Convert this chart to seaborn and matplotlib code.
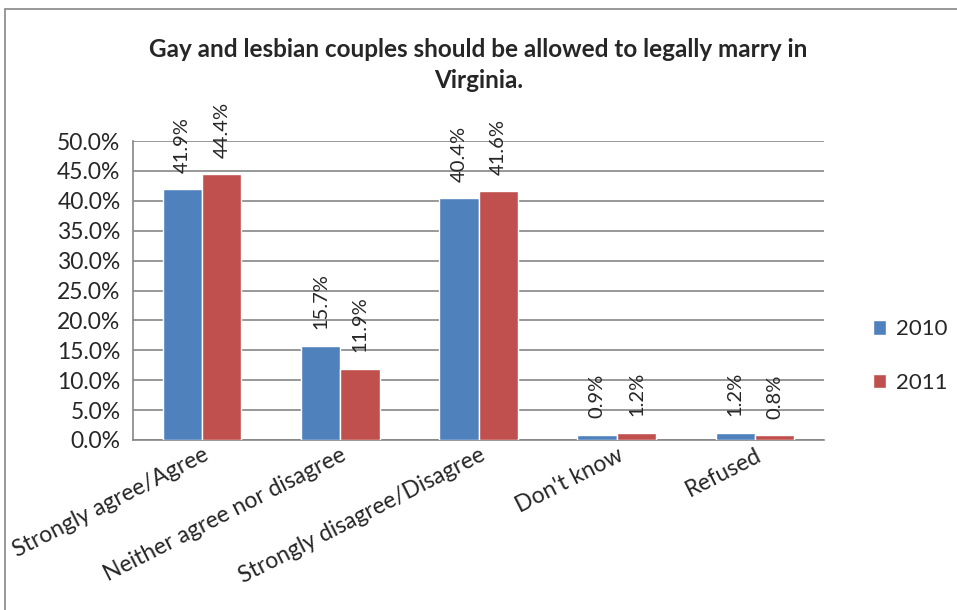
import numpy as np
import pandas as pd
import matplotlib.pyplot as plt
import matplotlib.patches as patches
from matplotlib.ticker import PercentFormatter, FixedLocator
import seaborn as sns

sns.set_style("white")
plt.rcParams['font.family'] = ['Lato', 'DejaVu Sans']

# DATA
categories = ["Strongly agree/Agree", "Neither agree nor disagree",
              "Strongly disagree/Disagree", "Don't know", "Refused"]
years = ["2010", "2011"]
values_2010 = [41.9, 15.7, 40.4, 0.9, 1.2]
values_2011 = [44.4, 11.9, 41.6, 1.2, 0.8]
colors = ["#4F81BD", "#C0504D"]

df = pd.DataFrame({
    "category": categories * 2,
    "year": [years[0]] * 5 + [years[1]] * 5,
    "value": values_2010 + values_2011,
})

fig = plt.figure(figsize=(9.57, 6.10), dpi=100)
ax = fig.add_axes([133 / 957, 1 - 440 / 610, 691 / 957, 299 / 610])

sns.barplot(data=df, x="category", y="value", hue="year", palette=colors,
            width=0.57, saturation=1, ax=ax, zorder=3)

for cont in ax.containers:
    ax.bar_label(cont, fmt="%.1f%%", rotation=90, padding=12, fontsize=14.5)

ax.set_ylim(0, 50)
ax.set_yticks(np.arange(0, 50.1, 5))
ax.yaxis.set_major_formatter(PercentFormatter(decimals=1))
ax.grid(axis="y", color="#868686", linewidth=1.2, zorder=0)
ax.set_xlim(-0.5, 4.5)

ax.tick_params(axis="y", labelsize=16.5, length=6, color="#868686", width=1.2, pad=3)
ax.tick_params(axis="x", which="major", length=0, labelsize=16.5, pad=3)
ax.xaxis.set_minor_locator(FixedLocator(np.arange(-0.5, 5, 1)))
ax.tick_params(axis="x", which="minor", length=6, color="#868686", width=1.2)
plt.setp(ax.get_xticklabels(), rotation=27, ha="right", rotation_mode="anchor")

for side in ["top", "right"]:
    ax.spines[side].set_visible(False)
for side in ["left", "bottom"]:
    ax.spines[side].set_color("#868686")
    ax.spines[side].set_linewidth(1.2)

ax.set_xlabel("")
ax.set_ylabel("")

leg = ax.legend(loc="center left", bbox_to_anchor=(862 / 957, 1 - 356 / 610),
                bbox_transform=fig.transFigure, frameon=False,
                fontsize=16, handlelength=0.6, handleheight=0.6,
                handletextpad=0.45, labelspacing=1.5, borderpad=0)

fig.text(0.5, 1 - 65 / 610,
         "Gay and lesbian couples should be allowed to legally marry in\nVirginia.",
         ha="center", va="center", fontsize=17.5, fontweight="bold",
         linespacing=1.45)

# chart border
fig.patches.append(patches.Rectangle((5 / 957, -0.05), 1.0, 1 - 9 / 610 + 0.05,
                                     transform=fig.transFigure, fill=False,
                                     edgecolor="#868686", linewidth=1.2))

fig.savefig("out.png", dpi=100)
